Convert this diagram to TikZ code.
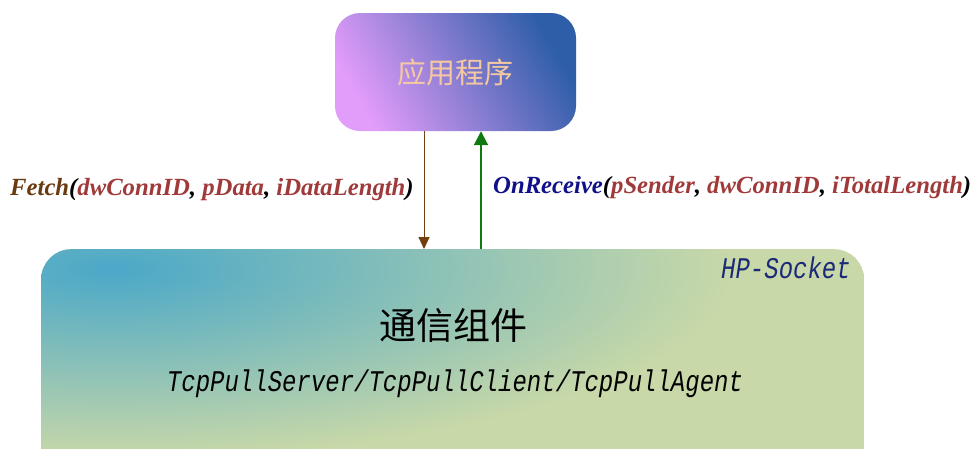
\documentclass[tikz,border=0pt]{standalone}
\usepackage{fontspec}
\setmainfont{Liberation Serif}
\newfontfamily\cjk{Noto Sans CJK SC}
\newfontfamily\monoit[FakeStretch=0.8]{Liberation Mono Italic}
\usetikzlibrary{arrows.meta}
\definecolor{appA}{HTML}{E29CFA}
\definecolor{appB}{HTML}{2E5EA8}
\definecolor{appText}{HTML}{F6C8A2}
\definecolor{hpA}{HTML}{4AA8C8}
\definecolor{hpB}{HTML}{C8D8A8}
\definecolor{fetchC}{HTML}{6A3A10}
\definecolor{parC}{HTML}{A03A3A}
\definecolor{recvC}{HTML}{10108A}
\definecolor{hpText}{HTML}{1A2A78}
\definecolor{downC}{HTML}{704010}
\definecolor{upC}{HTML}{107A10}
\tikzset{
  appbox/.style={rounded corners=25pt, minimum width=241pt, minimum height=118pt,
    left color=appA, right color=appB, shading angle=120, inner sep=0pt,
    font=\cjk\fontsize{29}{32}\selectfont, text=appText},
  hpbox/.style={rounded corners=30pt, minimum width=823pt, minimum height=240pt, inner sep=0pt,
    path picture={
      \fill[hpB] (path picture bounding box.south west) rectangle (path picture bounding box.north east);
      \shade[inner color=hpA, outer color=hpB] ([xshift=70pt,yshift=-20pt]path picture bounding box.north west) ellipse [x radius=620pt, y radius=190pt];
    }},
  lbl/.style={font=\fontsize{24.7}{28}\selectfont\bfseries\itshape, inner sep=0pt},
  mono/.style={font=\monoit\fontsize{30}{34}\selectfont, inner sep=0pt},
  downarrow/.style={draw=downC, line width=1pt, -{Triangle[length=12pt,width=11pt]}},
  uparrow/.style={draw=upC, line width=2pt, -{Triangle[length=14pt,width=14pt]}},
}
\begin{document}
\begin{tikzpicture}[x=1pt,y=-1pt]
\useasboundingbox (0,0) rectangle (979,448);
\begin{scope}
\clip (0,0) rectangle (979,448);
\node[appbox] (app) at (455.5,72) {应用程序};
\node[hpbox, anchor=north west] (hp) at (41,249) {};
\end{scope}
\node[font=\monoit\fontsize{30}{34}\selectfont, text=hpText, anchor=east, inner sep=0pt] (hpname) at (851,268) {HP-Socket};
\node[font=\cjk\fontsize{37}{40}\selectfont, text=black, inner sep=0pt] (title) at (453,325) {通信组件};
\node[mono, text=black] (classes) at (455,384) {TcpPullServer/TcpPullClient/TcpPullAgent};
\coordinate (dx) at (424,0);
\coordinate (ux) at (481,0);
\draw[downarrow] (app.south -| dx) -- (hp.north -| dx);
\draw[uparrow] (hp.north -| ux) -- (app.south -| ux);
\node[lbl, anchor=west] (fetch) at (10,190) {\textcolor{fetchC}{Fetch}(\textcolor{parC}{dwConnID}, \textcolor{parC}{pData}, \textcolor{parC}{iDataLength})};
\node[lbl, anchor=west] (recv) at (493,188) {\textcolor{recvC}{OnReceive}(\textcolor{parC}{pSender}, \textcolor{parC}{dwConnID}, \textcolor{parC}{iTotalLength})};
\end{tikzpicture}
\end{document}
